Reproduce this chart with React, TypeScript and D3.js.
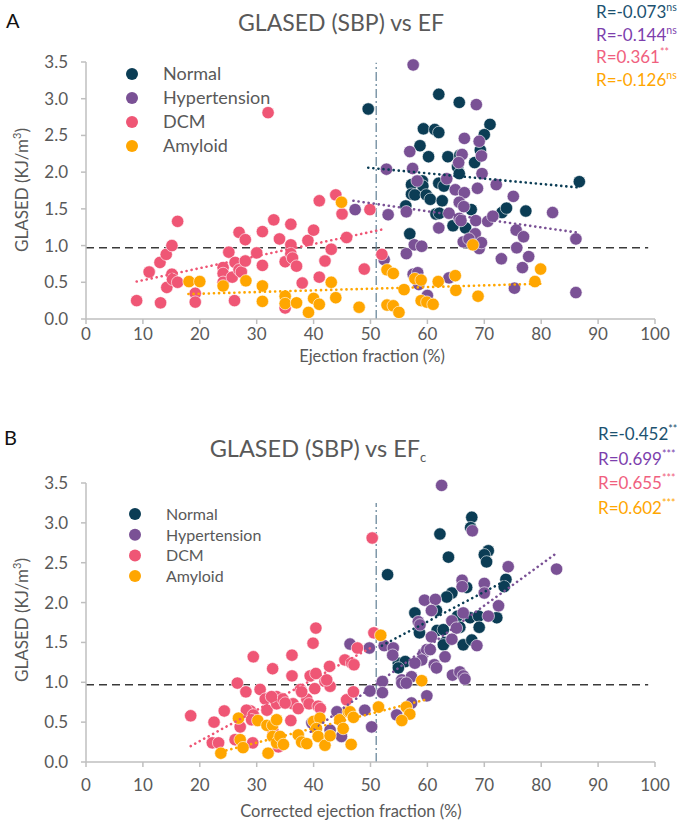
import React from "react";
import * as d3 from "d3";

type P = [number, number];

// ---------- Panel A : GLASED vs EF ----------
const aNormal: P[] = [[49.6,2.86],[62.0,3.06],[65.6,2.95],[59.3,2.59],[61.3,2.58],[62.0,2.54],[71.0,2.65],[70.0,2.51],[58.7,2.36],[60.2,2.21],[63.6,2.21],[65.7,2.23],[69.3,2.30],[68.3,2.13],[65.3,2.07],[65.6,1.98],[86.7,1.87],[59.1,1.88],[57.2,1.83],[59.2,1.81],[62.0,1.85],[62.9,1.81],[57.2,1.70],[57.8,1.69],[59.8,1.69],[60.5,1.63],[62.6,1.61],[56.2,1.54],[61.5,1.43],[62.1,1.44],[67.7,1.49],[73.1,1.45],[73.9,1.51],[77.3,1.47],[64.5,1.27],[66.7,1.24],[56.9,1.16]];
const aHyper: P[] = [[57.5,3.46],[68.6,2.92],[66.5,2.46],[69.1,2.42],[56.9,2.28],[66.1,2.24],[69.5,2.22],[65.5,2.13],[52.8,2.04],[57.4,2.05],[69.6,1.98],[58.2,1.88],[63.4,1.91],[72.1,1.83],[68.8,1.78],[64.9,1.76],[66.5,1.72],[75.1,1.67],[65.6,1.59],[66.4,1.53],[53.1,1.42],[56.3,1.46],[63.8,1.44],[65.6,1.37],[65.9,1.34],[68.5,1.34],[70.6,1.33],[71.5,1.40],[82.0,1.45],[62.0,1.24],[75.6,1.21],[76.9,1.12],[68.4,1.16],[66.3,1.05],[67.3,1.09],[86.1,1.09],[57.7,1.01],[59.0,0.99],[69.1,0.96],[69.5,1.04],[75.7,0.97],[56.3,0.89],[77.8,0.85],[73.0,0.82],[52.4,0.81],[76.7,0.70],[57.5,0.61],[58.3,0.63],[58.5,0.47],[63.8,0.56],[75.3,0.42],[86.1,0.36],[60.0,0.32],[47.3,1.49]];
const aDcm: P[] = [[8.9,0.25],[11.1,0.64],[13.1,0.22],[13.0,0.77],[14.1,0.88],[14.2,0.43],[15.1,1.00],[15.1,0.61],[15.2,0.54],[16.1,0.50],[16.1,1.33],[19.2,0.35],[19.2,0.23],[24.1,0.70],[24.1,0.62],[24.1,0.50],[25.1,0.91],[25.7,0.57],[26.2,0.77],[26.1,0.25],[26.9,1.18],[26.9,0.67],[27.3,0.64],[28.0,1.08],[28.0,0.79],[30.0,0.90],[31.0,1.19],[31.0,0.73],[32.0,2.81],[33.0,1.35],[34.0,1.09],[35.0,0.78],[35.0,0.15],[36.0,1.29],[36.0,1.01],[36.0,0.89],[36.3,0.83],[37.0,0.72],[38.0,0.49],[39.0,1.07],[40.0,1.21],[41.0,1.61],[41.0,0.57],[42.0,0.79],[43.1,0.95],[43.9,1.69],[45.0,1.43],[45.8,1.11],[49.9,1.49],[52.0,0.88],[48.9,0.68]];
const aAmyloid: P[] = [[18.1,0.51],[20.0,0.51],[24.1,0.45],[28.1,0.52],[31.0,0.45],[31.0,0.24],[35.0,0.31],[35.0,0.21],[37.0,0.22],[39.1,0.09],[40.0,0.28],[41.0,0.20],[43.1,0.50],[43.9,0.29],[44.9,1.59],[48.0,0.16],[52.9,0.67],[54.0,0.62],[55.9,0.40],[52.9,0.19],[54.0,0.18],[55.0,0.09],[57.8,0.55],[58.9,0.53],[61.9,0.51],[64.9,0.59],[65.0,0.39],[58.9,0.25],[59.9,0.23],[61.0,0.20],[68.9,0.31],[68.0,1.01],[78.9,0.51],[79.9,0.68]];
const aTrendNormal: P[] = [[49.6,2.06],[86.7,1.79]];
const aTrendHyper: P[] = [[47.0,1.61],[86.1,1.18]];
const aTrendDcm: P[] = [[8.9,0.51],[52.1,1.22]];
const aTrendAmyloid: P[] = [[18.0,0.34],[79.9,0.48]];
const aRLabels = ["R=-0.073", "R=-0.144", "R=0.361", "R=-0.126"];
const aRSig = ["ns", "ns", "**", "ns"];

// ---------- Panel B : GLASED vs corrected EF ----------
const bNormal: P[] = [[67.8,3.07],[67.6,2.94],[62.2,2.86],[70.7,2.65],[70.0,2.60],[70.4,2.51],[63.7,2.57],[53.0,2.35],[73.8,2.29],[73.5,2.20],[66.9,2.19],[64.3,2.12],[63.4,2.07],[57.8,1.87],[61.6,1.90],[58.6,1.62],[61.7,1.65],[62.8,1.66],[63.1,1.50],[62.8,1.47],[65.3,1.83],[65.7,1.69],[67.5,1.81],[69.0,1.83],[69.1,1.69],[66.3,1.47],[67.8,1.53],[72.2,1.81],[54.9,1.24],[56.1,1.26],[54.9,1.18]];
const bHyper: P[] = [[62.5,3.47],[67.9,2.90],[74.2,2.45],[82.7,2.42],[66.1,2.28],[66.1,2.20],[70.0,2.24],[70.0,2.12],[59.5,2.03],[61.4,2.04],[60.7,1.90],[66.3,1.87],[72.5,1.96],[70.7,1.83],[64.3,1.77],[65.1,1.68],[58.4,1.76],[58.7,1.72],[60.7,1.57],[64.3,1.54],[68.7,1.46],[46.4,1.48],[49.8,1.43],[52.4,1.46],[54.0,1.43],[53.9,1.34],[59.3,1.36],[59.9,1.41],[60.5,1.41],[59.0,1.28],[57.8,1.24],[61.2,1.22],[61.6,1.18],[63.1,1.32],[64.4,1.09],[65.7,1.13],[66.3,1.08],[66.6,1.04],[55.5,1.03],[55.5,0.99],[57.2,1.07],[56.3,0.99],[52.1,1.01],[52.1,0.87],[49.9,0.89],[59.9,0.83],[57.2,0.74],[54.6,0.59],[49.0,0.65],[50.2,0.44],[44.1,0.63],[39.7,0.49],[42.9,0.40],[44.9,0.32]];
const bDcm: P[] = [[18.4,0.58],[22.5,0.50],[24.3,0.64],[22.2,0.24],[23.3,0.24],[26.2,0.28],[26.6,0.99],[27.1,0.44],[28.1,0.88],[28.7,0.61],[28.9,0.64],[29.4,1.32],[29.3,0.24],[30.6,0.91],[31.5,0.79],[31.8,0.65],[32.8,1.17],[33.5,0.82],[33.5,0.73],[34.6,0.79],[36.2,1.34],[36.2,1.08],[36.0,0.52],[36.4,0.73],[37.3,0.67],[37.7,0.91],[38.8,0.79],[39.2,0.73],[39.9,1.49],[40.4,1.68],[39.4,1.08],[40.4,1.11],[40.2,0.92],[40.8,0.70],[41.2,0.67],[42.0,1.01],[42.9,0.95],[42.8,1.20],[32.9,0.38],[33.8,0.19],[45.8,0.78],[50.6,1.62],[45.5,1.28],[46.7,1.24],[47.7,1.43],[47.1,1.22],[47.0,0.88],[50.3,2.81],[42.3,1.03],[32.6,0.82],[35.0,0.74],[37.9,0.88],[28.2,0.65],[29.4,0.59],[29.1,0.53]];
const bAmyloid: P[] = [[23.7,0.11],[26.8,0.55],[27.1,0.28],[27.6,0.18],[30.2,0.52],[31.8,0.46],[32.8,0.46],[33.5,0.53],[32.0,0.11],[32.8,0.32],[33.5,0.24],[34.1,0.32],[34.7,0.22],[37.3,0.34],[37.9,0.25],[38.8,0.23],[40.0,0.51],[41.1,0.55],[40.5,0.42],[40.8,0.32],[42.0,0.21],[42.9,0.33],[44.6,0.53],[45.2,0.42],[46.1,0.63],[51.8,1.59],[59.0,1.02],[51.4,0.69],[46.4,0.63],[47.0,0.56],[46.6,0.22],[56.3,0.69],[56.9,0.60],[55.5,0.52]];
const bTrendNormal: P[] = [[52.0,1.46],[73.6,2.27]];
const bTrendHyper: P[] = [[39.5,0.38],[82.5,2.61]];
const bTrendDcm: P[] = [[18.4,0.20],[50.5,1.45]];
const bTrendAmyloid: P[] = [[23.8,0.13],[59.6,0.78]];
const bRLabels = ["R=-0.452", "R=0.699", "R=0.655", "R=0.602"];
const bRSig = ["**", "***", "***", "***"];

// ---------- shared ----------
const groups = ["Normal", "Hypertension", "DCM", "Amyloid"];
const xTicks = [0, 10, 20, 30, 40, 50, 60, 70, 80, 90, 100];
const yTicks = [0, 0.5, 1, 1.5, 2, 2.5, 3, 3.5];
const cutoffGlased = 0.97;
const cutoffEf = 51;

const pointColors = ["#0b3d55", "#7a5195", "#ef5675", "#ffa600"];
const textColors = ["#1c5270", "#7d3fad", "#f0607e", "#ffa600"];
const FONT = "Lato, 'Open Sans', sans-serif";
const GREY = "#595959";

interface PanelProps {
  series: P[][];
  trends: P[][];
  top: number;
  bottom: number;
  vTop: number;
  rLabels: string[];
  rSig: string[];
  rX: number;
  rY: number;
  rStep: number;
  legendX: number;
  legendY: number;
  legendStep: number;
  legendSize: number;
  xLabel: string;
  xLabelX: number;
  xLabelOffset: number;
  xTickOffset: number;
  yLabelY: number;
  tickSize: number;
}

function Panel(p: PanelProps) {
  const x = d3.scaleLinear().domain([0, 100]).range([86, 655]);
  const y = d3.scaleLinear().domain([0, 3.5]).range([p.bottom, p.top]);
  const line = d3.line<P>().x((d) => x(d[0])).y((d) => y(d[1]));
  const fmt = d3.format(".1f");
  return (
    <g fontFamily={FONT}>
      {/* reference lines */}
      <line x1={x(0)} x2={x(98.8)} y1={y(cutoffGlased)} y2={y(cutoffGlased)} stroke="#3a3a3a" strokeWidth={1.6} strokeDasharray="8,5" />
      <line x1={x(cutoffEf)} x2={x(cutoffEf)} y1={y(0)} y2={y(p.vTop)} stroke="#5f7f94" strokeWidth={1.2} strokeDasharray="9,3,2,3" />
      {/* axes */}
      <line x1={x(0)} x2={x(100)} y1={y(0)} y2={y(0)} stroke="#bfbfbf" strokeWidth={1.5} />
      <line x1={x(0)} x2={x(0)} y1={y(0)} y2={y(3.5)} stroke="#bfbfbf" strokeWidth={1.5} />
      {xTicks.map((t) => (
        <g key={"x" + t}>
          <line x1={x(t)} x2={x(t)} y1={y(0)} y2={y(0) + 5} stroke="#bfbfbf" strokeWidth={1.5} />
          <text x={x(t)} y={y(0) + p.xTickOffset} textAnchor="middle" fontSize={p.tickSize} fill={GREY}>{t}</text>
        </g>
      ))}
      {yTicks.map((t) => (
        <g key={"y" + t}>
          <line x1={x(0) - 5} x2={x(0)} y1={y(t)} y2={y(t)} stroke="#bfbfbf" strokeWidth={1.5} />
          <text x={x(0) - 18} y={y(t) + 6} textAnchor="end" fontSize={p.tickSize} fill={GREY}>{fmt(t)}</text>
        </g>
      ))}
      {/* points */}
      {p.series.map((s, i) => (
        <g key={"s" + i}>
          {s.map((d, j) => (
            <circle key={j} cx={x(d[0])} cy={y(d[1])} r={6.2} fill={pointColors[i]} stroke="#ffffff" strokeWidth={0.6} />
          ))}
        </g>
      ))}
      {/* trend lines */}
      {p.trends.map((t, i) => (
        <path key={"t" + i} d={line(t) || ""} fill="none" stroke={pointColors[i]} strokeWidth={2.6} strokeDasharray="0.1,5" strokeLinecap="round" />
      ))}
      {/* legend */}
      {groups.map((g, i) => (
        <g key={"l" + g}>
          <circle cx={p.legendX} cy={p.legendY + i * p.legendStep} r={6} fill={pointColors[i]} />
          <text x={p.legendX + 31} y={p.legendY + i * p.legendStep + 6} fontSize={p.legendSize} fill={GREY}>{g}</text>
        </g>
      ))}
      {/* R values */}
      {p.rLabels.map((r, i) => (
        <text key={"r" + i} x={p.rX} y={p.rY + i * p.rStep} fontSize={17} fill={textColors[i]}>
          {r}
          <tspan fontSize={10.5} dy={-7}>{p.rSig[i]}</tspan>
        </text>
      ))}
      {/* axis titles */}
      <text x={p.xLabelX} y={y(0) + p.xLabelOffset} textAnchor="middle" fontSize={16.5} fill={GREY}>{p.xLabel}</text>
      <text transform={`translate(28,${p.yLabelY}) rotate(-90)`} textAnchor="middle" fontSize={17} fill={GREY}>
        GLASED (KJ/m<tspan fontSize={11} dy={-7}>3</tspan><tspan dy={7}>)</tspan>
      </text>
    </g>
  );
}

export default function App() {
  return (
    <svg width={685} height={823} style={{ position: "absolute", left: 0, top: 0, background: "#fff" }}>
      <rect width={685} height={823} fill="#fff" />
      <text x={6} y={28} fontFamily={FONT} fontSize={20} fill="#111">A</text>
      <text x={341} y={31} textAnchor="middle" fontFamily={FONT} fontSize={23} fill={GREY}>GLASED (SBP) vs EF</text>
      <Panel
        series={[aNormal, aHyper, aDcm, aAmyloid]}
        trends={[aTrendNormal, aTrendHyper, aTrendDcm, aTrendAmyloid]}
        top={62} bottom={319} vTop={3.49}
        rLabels={aRLabels} rSig={aRSig} rX={596} rY={18} rStep={22.7}
        legendX={132} legendY={74} legendStep={24} legendSize={18}
        xLabel="Ejection fraction (%)" xLabelX={372} xLabelOffset={43} xTickOffset={21}
        yLabelY={190} tickSize={17}
      />
      <text x={4} y={445} fontFamily={FONT} fontSize={20} fill="#111">B</text>
      <text x={318} y={457} textAnchor="middle" fontFamily={FONT} fontSize={23.5} fill={GREY}>
        GLASED (SBP) vs EF<tspan fontSize={13} dy={5}>c</tspan>
      </text>
      <Panel
        series={[bNormal, bHyper, bDcm, bAmyloid]}
        trends={[bTrendNormal, bTrendHyper, bTrendDcm, bTrendAmyloid]}
        top={483} bottom={762} vTop={3.25}
        rLabels={bRLabels} rSig={bRSig} rX={598} rY={440} rStep={24.5}
        legendX={135} legendY={514} legendStep={20.7} legendSize={16}
        xLabel="Corrected ejection fraction (%)" xLabelX={351} xLabelOffset={55} xTickOffset={29}
        yLabelY={620} tickSize={17}
      />
    </svg>
  );
}
